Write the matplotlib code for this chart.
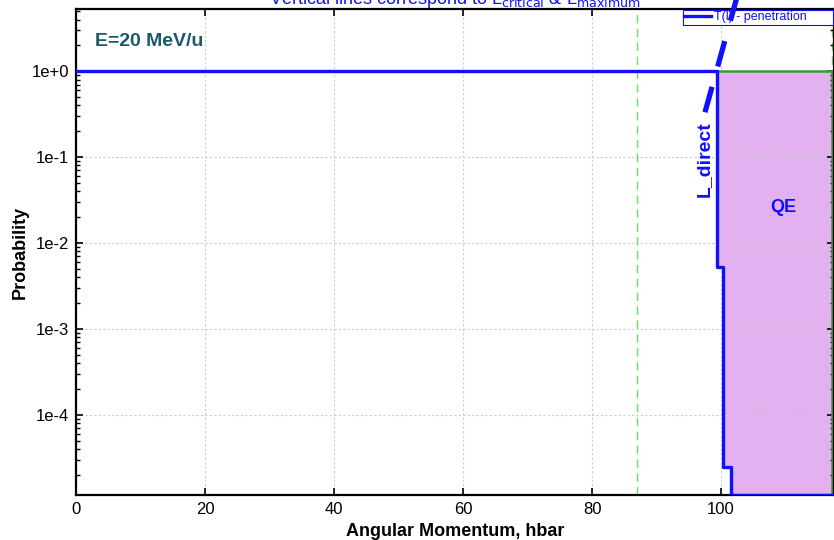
import matplotlib
matplotlib.use("Agg")
import matplotlib.pyplot as plt
import numpy as np
from matplotlib.ticker import FixedLocator, FuncFormatter, LogLocator, NullFormatter

# ---- data ----
L_edges = [0.0, 99.4, 100.3, 101.5, 117.2]
T_vals = [1.0, 5.2e-3, 2.5e-5, 1.17e-5, 1.17e-5]
L_critical = 87.0
L_maximum = 117.2
xticks = [0, 20, 40, 60, 80, 100]
yticks = [1e0, 1e-1, 1e-2, 1e-3, 1e-4]
ytick_labels = ["1e+0", "1e-1", "1e-2", "1e-3", "1e-4"]
ldirect_x = [97.5, 102.8]
ldirect_y = [0.333, 9.0]

plt.rcParams['font.family'] = ['Liberation Sans', 'DejaVu Sans']

fig = plt.figure(figsize=(8.34, 5.40), dpi=100)
ax = fig.add_axes([76/834, 45/540, (834-76)/834, (495-9)/540])
ax.set_yscale('log')
ax.set_xlim(0, 117.5)
ax.set_ylim(1.17e-5, 5.3)

blue = '#1010ff'
purple = '#e3b0f0'
dgreen = '#3a9a3a'
lgreen = '#66dd66'

# QE fill
Lx = np.array(L_edges)
Ty = np.array(T_vals)
ax.fill_between(Lx, Ty, 1.0, step='post', where=Lx >= L_edges[1], color=purple, lw=0, zorder=1)
ax.plot([L_edges[1], L_maximum], [1, 1], color=dgreen, lw=1.8, zorder=2)
ax.plot([L_maximum, L_maximum], [1.17e-5, 1], color=dgreen, lw=1.8, zorder=2)

# vertical lines
ax.axvline(L_critical, color=lgreen, lw=1.0, ls=(0, (6, 4)), zorder=2)
ax.axvline(L_maximum, color=lgreen, lw=1.0, ls=(0, (6, 4)), zorder=1.5)

# T(l)
ax.step(L_edges, T_vals, where='post', color=blue, lw=2.4, zorder=4,
        label='T(l) - penetration')

# L_direct dashed line
ax.plot(ldirect_x, ldirect_y, color=blue, lw=3.8, ls=(0, (5, 4)), clip_on=False,
        zorder=7, solid_capstyle='butt', dash_capstyle='butt')
ax.text(97.4, 0.095, 'L_direct', rotation=90, color=blue, fontsize=14,
        fontweight='bold', ha='center', va='center')
ax.text(109.6, 0.026, 'QE', color=blue, fontsize=13, fontweight='bold',
        ha='center', va='center')
ax.text(3.0, 2.2, 'E=20 MeV/u', color='#1b5a6e', fontsize=14, fontweight='bold',
        ha='left', va='center')

# ticks & grid
ax.xaxis.set_major_locator(FixedLocator(xticks))
ax.yaxis.set_major_locator(FixedLocator(yticks))
ax.yaxis.set_major_formatter(FuncFormatter(lambda v, p: ytick_labels[yticks.index(v)] if v in yticks else ''))
ax.yaxis.set_minor_locator(LogLocator(base=10, subs=np.arange(2, 10)))
ax.yaxis.set_minor_formatter(NullFormatter())
ax.tick_params(axis='both', which='major', direction='in', length=5, width=1.2,
               top=True, right=True, labelsize=12, pad=5)
ax.tick_params(axis='y', which='minor', direction='in', length=3, width=1.0, right=True)
ax.grid(True, which='major', color='#cccccc', ls=(0, (2, 2)), lw=0.8)
for s in ax.spines.values():
    s.set_linewidth(1.6)
    s.set_color('black')

ax.set_xlabel('Angular Momentum, hbar', fontsize=13, fontweight='bold')
ax.set_ylabel('Probability', fontsize=13, fontweight='bold')
ax.yaxis.set_label_coords((20 - 76) / 758, 0.5)
ax.xaxis.set_label_coords(0.5, -(531 - 495) / 486)
ax.xaxis.label.set_va('center')
ax.yaxis.label.set_va('center')

leg = ax.legend(loc='upper left', bbox_to_anchor=(683/834, 1 - 10/540),
                bbox_transform=fig.transFigure, frameon=True,
                fancybox=False, borderpad=0.1, handlelength=2.1, handletextpad=0.3,
                borderaxespad=0, prop={'size': 9})
leg.set_zorder(6)
leg.get_frame().set_edgecolor(blue)
leg.get_frame().set_linewidth(0.8)
leg.get_frame().set_alpha(1.0)
for t in leg.get_texts():
    t.set_color(blue)
    t.set_text(t.get_text() + '       ')

fig.text(455/834, 1 - 4/540,
         r'Vertical lines correspond to L$_{\rm critical}$ & L$_{\rm maximum}$',
         color=blue, fontsize=13, ha='center', va='baseline')

fig.savefig('out.png', dpi=100)
